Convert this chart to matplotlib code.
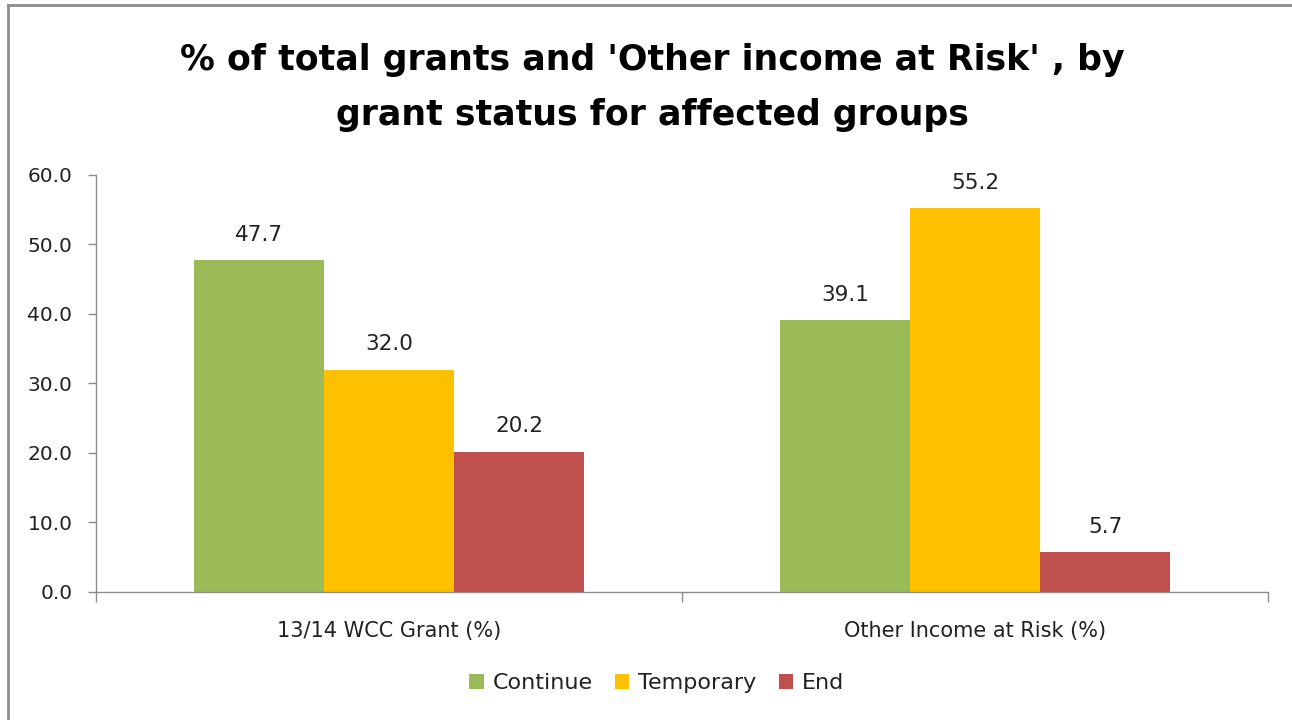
import numpy as np
import matplotlib.pyplot as plt
from matplotlib.lines import Line2D

# Grant status shares per income type
categories = ['13/14 WCC Grant (%)', 'Other Income at Risk (%)']
series_names = ['Continue', 'Temporary', 'End']
continue_vals = [47.7, 39.1]
temporary_vals = [32.0, 55.2]
end_vals = [20.2, 5.7]
colors = ['#9BBB59', '#FFC000', '#C0504D']

plt.rcParams['font.family'] = ['DejaVu Sans']

fig = plt.figure(figsize=(12.92, 7.2), dpi=100)
ax = fig.add_axes([0.0743, 0.1778, 0.9071, 0.5792])

x = np.arange(len(categories))
width = 2 / 9
series = [continue_vals, temporary_vals, end_vals]
for i, (name, vals, col) in enumerate(zip(series_names, series, colors)):
    pos = x + (i - 1) * width
    bars = ax.bar(pos, vals, width, color=col, label=name, linewidth=0)
    for b, v in zip(bars, vals):
        ax.annotate(f'{v:.1f}', (b.get_x() + b.get_width() / 2, v),
                    xytext=(0, 18.5), textcoords='offset points',
                    ha='center', va='center', fontsize=15.5, color='#222222')

ax.set_xlim(-0.5, 1.5)
ax.set_ylim(0, 60)
ax.set_yticks(np.arange(0, 61, 10))
ax.set_yticklabels([f'{t:.1f}' for t in np.arange(0, 61, 10)])
ax.set_xticks(x)
ax.set_xticklabels(categories)
ax.set_xticks([-0.5, 0.5, 1.5], minor=True)

axis_col = '#8C8C8C'
for side in ['top', 'right']:
    ax.spines[side].set_visible(False)
for side in ['left', 'bottom']:
    ax.spines[side].set_color(axis_col)
    ax.spines[side].set_linewidth(1.0)
ax.tick_params(axis='y', direction='out', length=6, width=1.0, color=axis_col,
               labelsize=14.5, labelcolor='#222222', pad=11)
ax.tick_params(axis='x', which='major', length=0, labelsize=15,
               labelcolor='#222222', pad=21)
ax.tick_params(axis='x', which='minor', direction='out', length=7, width=1.0,
               color=axis_col)

fig.text(0.5046, 0.916, "% of total grants and 'Other income at Risk' , by",
         ha='center', va='center', fontsize=25, fontweight='bold')
fig.text(0.5046, 0.840, 'grant status for affected groups',
         ha='center', va='center', fontsize=25, fontweight='bold')

ax.legend(loc='center', bbox_to_anchor=(0.4785, -0.218), bbox_transform=ax.transAxes,
          ncol=3, frameon=False, fontsize=16, handlelength=0.65, handleheight=0.65,
          handletextpad=0.4, columnspacing=1.0,
          labelcolor='#222222')

# Outer chart frame
fig.add_artist(Line2D([7.5 / 1292, 7.5 / 1292], [0, 1 - 5 / 720],
                      transform=fig.transFigure, color=axis_col, lw=2))
fig.add_artist(Line2D([7.5 / 1292, 1], [1 - 5 / 720, 1 - 5 / 720],
                      transform=fig.transFigure, color=axis_col, lw=2))

fig.savefig('out.png', dpi=100)
